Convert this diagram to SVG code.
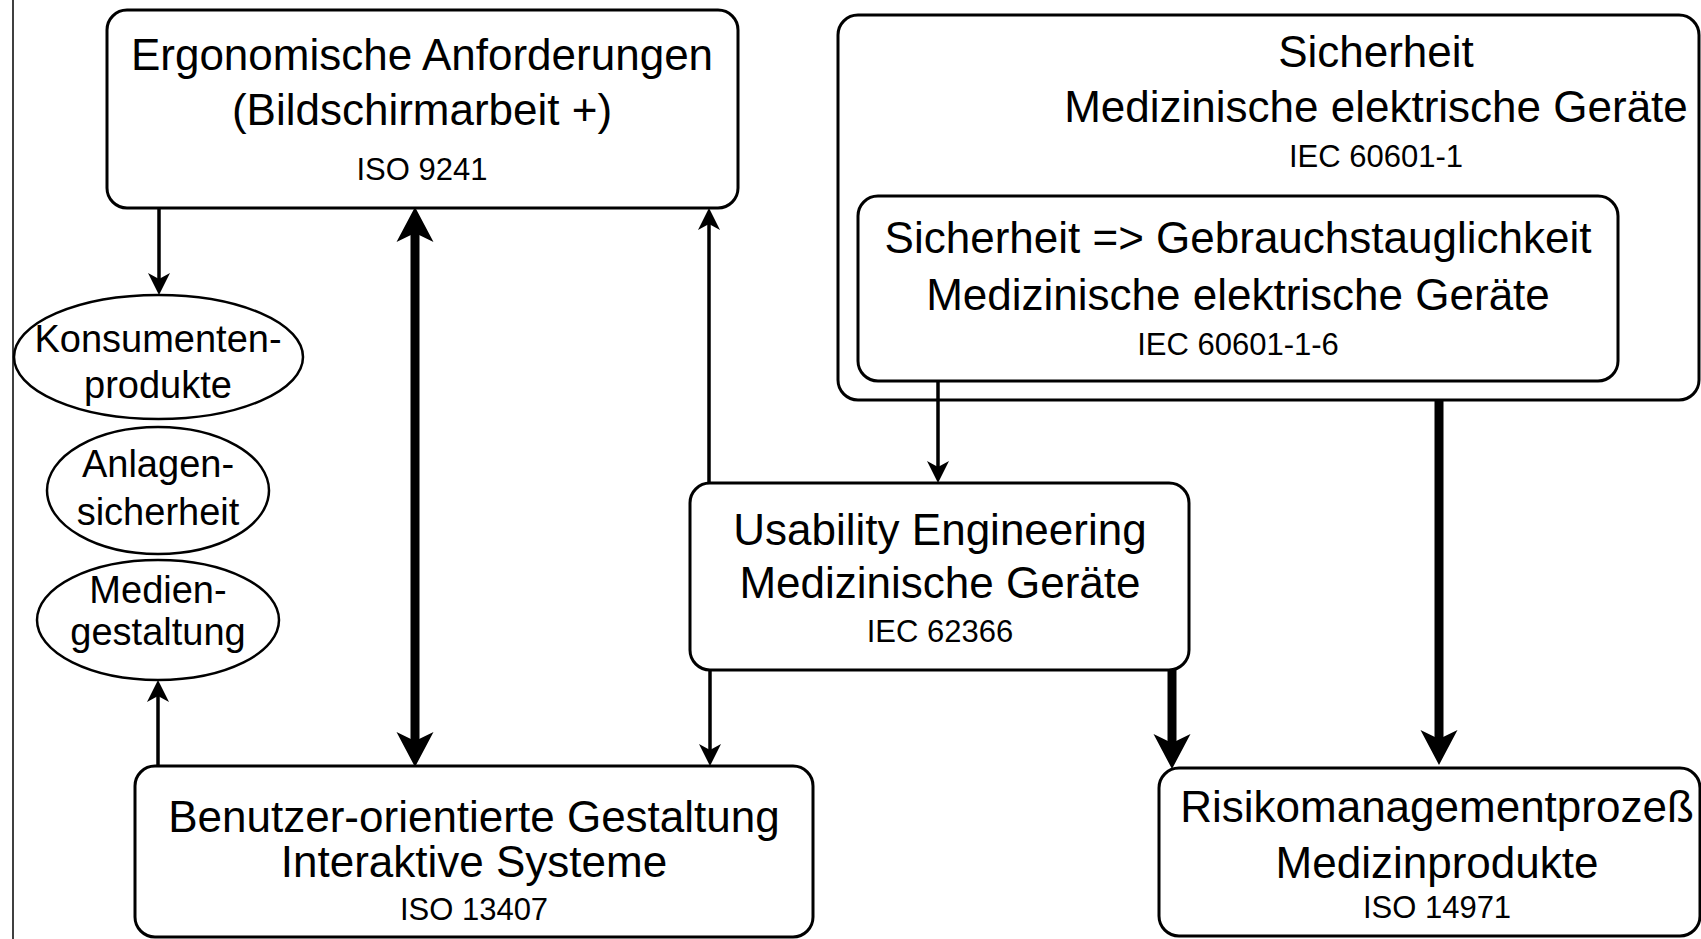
<svg xmlns="http://www.w3.org/2000/svg" width="1701" height="939" viewBox="0 0 1701 939">
<style>
.box{fill:#fff;stroke:#000;stroke-width:3}
.ell{fill:#fff;stroke:#000;stroke-width:2.5}
text{font-family:"Liberation Sans",Arial,sans-serif;fill:#000;text-anchor:middle}
.l{font-size:44px}
.s{font-size:31px}
.e{font-size:38px}
.thin{stroke:#000;stroke-width:3.5;fill:none}
.thick{stroke:#000;stroke-width:9;fill:none}
</style>
<defs>
<marker id="ah" markerUnits="userSpaceOnUse" markerWidth="22" markerHeight="22" refX="6" refY="11" orient="auto-start-reverse" overflow="visible">
<path d="M0,0 L22,11 L0,22 L6,11 Z" fill="#000"/>
</marker>
<marker id="AH" markerUnits="userSpaceOnUse" markerWidth="35" markerHeight="37" refX="9" refY="18.5" orient="auto-start-reverse" overflow="visible">
<path d="M0,0 L35,18.5 L0,37 L9,18.5 Z" fill="#000"/>
</marker>
</defs>
<line x1="13" y1="0" x2="13" y2="939" stroke="#000" stroke-width="1.5"/>
<g id="sicherheit">
<rect class="box" x="838" y="15" width="861" height="385" rx="20"/>
<text class="l" x="1376" y="67">Sicherheit</text>
<text class="l" x="1376" y="122">Medizinische elektrische Geräte</text>
<text class="s" x="1376" y="167">IEC 60601-1</text>
</g>
<g id="gebrauchstauglichkeit">
<rect class="box" x="858" y="196" width="760" height="185" rx="20"/>
<text class="l" x="1238" y="253">Sicherheit =&gt; Gebrauchstauglichkeit</text>
<text class="l" x="1238" y="310">Medizinische elektrische Geräte</text>
<text class="s" x="1238" y="355">IEC 60601-1-6</text>
</g>
<g id="ergonomie">
<rect class="box" x="107" y="10" width="631" height="198" rx="20"/>
<text class="l" x="422" y="70">Ergonomische Anforderungen</text>
<text class="l" x="422" y="125">(Bildschirmarbeit +)</text>
<text class="s" x="422" y="180">ISO 9241</text>
</g>
<g id="usability">
<rect class="box" x="690" y="483" width="499" height="187" rx="20"/>
<text class="l" x="940" y="545">Usability Engineering</text>
<text class="l" x="940" y="598">Medizinische Geräte</text>
<text class="s" x="940" y="642">IEC 62366</text>
</g>
<g id="benutzer">
<rect class="box" x="135" y="766" width="678" height="171" rx="20"/>
<text class="l" x="474" y="832">Benutzer-orientierte Gestaltung</text>
<text class="l" x="474" y="877">Interaktive Systeme</text>
<text class="s" x="474" y="920">ISO 13407</text>
</g>
<g id="risiko">
<rect class="box" x="1159" y="768" width="541" height="168" rx="20"/>
<text class="l" x="1437" y="822">Risikomanagementprozeß</text>
<text class="l" x="1437" y="878">Medizinprodukte</text>
<text class="s" x="1437" y="918">ISO 14971</text>
</g>
<g id="konsumenten">
<ellipse class="ell" cx="158.5" cy="357" rx="144.5" ry="62"/>
<text class="e" x="158" y="352">Konsumenten-</text>
<text class="e" x="158" y="398">produkte</text>
</g>
<g id="anlagen">
<ellipse class="ell" cx="158" cy="490.5" rx="111" ry="63.5"/>
<text class="e" x="158" y="477">Anlagen-</text>
<text class="e" x="158" y="525">sicherheit</text>
</g>
<g id="medien">
<ellipse class="ell" cx="158" cy="620" rx="121" ry="60"/>
<text class="e" x="158" y="603">Medien-</text>
<text class="e" x="158" y="645">gestaltung</text>
</g>
<g id="connectors">
<line class="thin" x1="159" y1="208" x2="159" y2="279" marker-end="url(#ah)"/>
<line class="thick" x1="415" y1="233" x2="415" y2="741" marker-start="url(#AH)" marker-end="url(#AH)"/>
<line class="thin" x1="709" y1="483" x2="709" y2="224" marker-end="url(#ah)"/>
<line class="thin" x1="710" y1="670" x2="710" y2="750" marker-end="url(#ah)"/>
<line class="thin" x1="158" y1="766" x2="158" y2="696" marker-end="url(#ah)"/>
<line class="thin" x1="938" y1="381" x2="938" y2="467" marker-end="url(#ah)"/>
<line class="thick" x1="1439" y1="400" x2="1439" y2="739" marker-end="url(#AH)"/>
<line class="thick" x1="1172" y1="670" x2="1172" y2="743" marker-end="url(#AH)"/>
</g>
</svg>
